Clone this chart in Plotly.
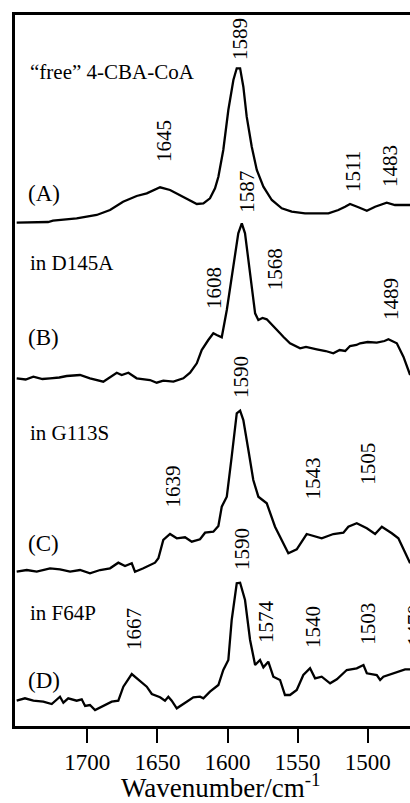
import plotly.graph_objects as go

# ---- data (wavenumber / cm-1, relative intensity) ----
wn_A = [1750.4, 1728.0, 1724.5, 1707.6, 1693.3, 1683.8, 1674.5, 1664.8, 1657.6, 1648.1, 1641.0, 1631.5,
        1621.9, 1617.2, 1612.5, 1608.9, 1606.5, 1603.0, 1599.4, 1595.8, 1593.4, 1591.0, 1588.7, 1586.3,
        1582.7, 1579.1, 1574.4, 1568.4, 1561.3, 1554.2, 1544.7, 1528.0, 1520.9, 1516.1, 1512.6, 1506.6,
        1500.6, 1494.7, 1486.4, 1480.5, 1473.3, 1469.7]
int_A = [0.3, 1, 2.3, 4.7, 8, 13, 21.3, 27, 29.7, 35.7, 33, 26.3,
         19, 19.7, 24.7, 34.7, 46.3, 73, 113, 143, 154.7, 154.7, 136.3, 106.3,
         76.3, 53, 36.3, 23, 14.7, 11.3, 9.7, 9.7, 13, 16.3, 19, 15.7,
         12.3, 16.3, 20.3, 18, 18, 18]

wn_B = [1750.4, 1744.0, 1738.5, 1732.0, 1726.6, 1720.0, 1714.7, 1705.2, 1698.1, 1688.6, 1679.0, 1675.5,
        1670.7, 1664.8, 1655.3, 1650.5, 1645.8, 1638.6, 1631.5, 1626.7, 1621.9, 1618.4, 1613.7, 1610.1,
        1607.7, 1604.1, 1600.5, 1595.8, 1592.3, 1589.8, 1587.5, 1583.9, 1580.3, 1578.0, 1575.0, 1572.0,
        1567.3, 1565.0, 1562.5, 1560.2, 1555.4, 1548.2, 1544.0, 1536.3, 1530.0, 1524.5, 1520.0, 1516.0,
        1512.6, 1508.0, 1505.4, 1500.0, 1493.5, 1488.0, 1485.2, 1479.2, 1474.5, 1469.7]
int_B = [1.7, 0.5, 3.3, 1.0, 1.7, 2.5, 4, 5, 1.7, -1.7, 7.3, 5,
         7.3, 1.7, 0, -2.7, -0.7, -1.7, 1.7, 7.3, 16.7, 30, 40, 46.7,
         45, 42.7, 70, 113.3, 146.7, 156.7, 146.7, 106.7, 66.7, 60, 62, 60.7,
         53.3, 50, 46.7, 43.3, 36.7, 31.7, 33, 30.7, 29, 26.7, 30, 29,
         34, 35, 36.7, 38, 37.3, 39, 40.7, 36.7, 23.3, 5]

wn_C = [1750.4, 1743.2, 1736.1, 1726.6, 1719.5, 1712.3, 1705.2, 1698.1, 1690.9, 1683.8, 1677.9, 1673.1,
        1668.3, 1666.0, 1660.0, 1651.7, 1649.3, 1645.8, 1641.0, 1636.2, 1630.3, 1625.5, 1619.6, 1616.0,
        1610.1, 1606.5, 1604.1, 1600.5, 1597.0, 1593.4, 1591.0, 1588.7, 1585.1, 1581.6, 1578.0, 1572.0,
        1566.1, 1561.3, 1556.6, 1550.6, 1543.5, 1532.8, 1524.5, 1517.3, 1513.8, 1507.8, 1500.6, 1494.7,
        1489.9, 1482.8, 1478.1, 1469.7]
int_C = [0.3, 2, 0.3, 3.7, 2.7, 0.3, 2, -1.3, 2, 3.7, 9.3, 6,
         8.7, 0.3, 3.7, 9.3, 13.7, 32, 38, 33.7, 34.7, 30.3, 32.7, 39.3,
         40.3, 46, 65.3, 75.3, 115.3, 158.7, 161.3, 152, 122, 92, 75.3, 68.7,
         45.3, 32, 18.7, 22.7, 38, 33.7, 38, 39.3, 45.3, 48.7, 43.7, 38,
         45.3, 38.7, 33.7, 8.7]

wn_D = [1750.4, 1744.5, 1738.5, 1731.4, 1725.4, 1721.8, 1719.5, 1717.1, 1713.6, 1707.6, 1704.0, 1701.6,
        1698.1, 1694.5, 1688.6, 1682.6, 1677.9, 1674.3, 1668.3, 1663.6, 1657.6, 1654.0, 1648.1, 1644.6,
        1642.2, 1639.8, 1636.2, 1629.1, 1624.4, 1619.6, 1617.2, 1612.5, 1606.5, 1603.0, 1599.4, 1597.0,
        1593.4, 1591.0, 1587.5, 1583.9, 1580.3, 1576.8, 1574.4, 1570.9, 1567.3, 1562.5, 1559.0, 1555.4,
        1550.6, 1545.9, 1541.1, 1537.5, 1532.8, 1526.8, 1522.0, 1514.9, 1507.8, 1503.0, 1500.6, 1493.5,
        1491.1, 1488.8, 1481.7, 1476.9, 1473.3, 1469.7]
int_D = [5.3, 7.7, 5.3, 4.3, 2, 6, 9.3, 3.3, 7.7, 5.3, 6.7, 0,
         1, -4, 0, 4.3, 5.3, 19.3, 32, 26, 19.3, 12, 8.7, 5.3,
         9.3, 5.3, -2.3, 4.3, 8.7, 9.3, 7.7, 14.3, 21, 36, 46, 86,
         122.7, 123.3, 106, 66, 41, 46, 38.7, 44.3, 29.3, 26, 11, 11,
         16, 31, 37.7, 27.7, 29.3, 22.7, 26.7, 36, 37.7, 41, 32.7, 31,
         26, 29.3, 32.7, 34.3, 36.7, 36.7]

offsets = [503, 346, 154, 20]
spectra = [(wn_A, int_A), (wn_B, int_B), (wn_C, int_C), (wn_D, int_D)]

sample_names = ["\u201cfree\u201d 4-CBA-CoA", "in D145A", "in G113S", "in F64P"]
panel_tags = ["(A)", "(B)", "(C)", "(D)"]

peak_labels = [["1589", "1645", "1511", "1483"],
               ["1587", "1608", "1568", "1489"],
               ["1590", "1639", "1543", "1505"],
               ["1590", "1667", "1574", "1540", "1503", "1470"]]

tick_vals = [1700, 1650, 1600, 1550, 1500]

# ---- layout helpers (positions) ----
X_RANGE = [1751.6, 1469.8]
peak_pos = [[(1591.0, 687), (1645.3, 585), (1510.4, 554), (1484.0, 560)],
            [(1586.3, 534), (1609.6, 438), (1566.0, 457), (1483.3, 427)],
            [(1590.3, 349), (1639.2, 239), (1539.3, 247), (1499.9, 262)],
            [(1589.6, 177), (1666.7, 97), (1572.5, 104), (1539.0, 99), (1500.0, 102), (1466.0, 101)]]
name_y = [654, 463, 293, 113]
tag_y = [533, 389, 183, 46]

FONT = "Liberation Serif, Times New Roman, serif"

fig = go.Figure()
for (wn, inten), off in zip(spectra, offsets):
    fig.add_trace(go.Scatter(x=wn, y=[v + off for v in inten], mode="lines",
                             line=dict(color="black", width=2.3), showlegend=False,
                             hoverinfo="skip"))

ann = []
for i in range(4):
    ann.append(dict(x=1742.5, y=name_y[i], xref="x", yref="y", text=sample_names[i],
                    showarrow=False, xanchor="left", yanchor="middle",
                    font=dict(family=FONT, size=21, color="black")))
    ann.append(dict(x=1743.5, y=tag_y[i], xref="x", yref="y", text=panel_tags[i],
                    showarrow=False, xanchor="left", yanchor="middle",
                    font=dict(family=FONT, size=23, color="black")))
    for lab, (px, py) in zip(peak_labels[i], peak_pos[i]):
        if X_RANGE[1] <= px <= X_RANGE[0]:
            xr, xv = "x", px
        else:  # label partly beyond the right edge -> place in paper coords so it is not hidden
            xr, xv = "paper", (X_RANGE[0] - px) / (X_RANGE[0] - X_RANGE[1])
        ann.append(dict(x=xv, y=py, xref=xr, yref="y", text=lab, textangle=-90,
                        showarrow=False, xanchor="center", yanchor="middle",
                        font=dict(family=FONT, size=21, color="black")))

ann.append(dict(x=0.5215, y=-0.058, xref="paper", yref="paper",
                text="Wavenumber/cm<sup>-1</sup>", showarrow=False,
                xanchor="center", yanchor="top",
                font=dict(family=FONT, size=27, color="black")))

fig.update_layout(
    width=410, height=803,
    margin=dict(l=15, r=0, t=15, b=77),
    paper_bgcolor="white", plot_bgcolor="white",
    annotations=ann,
    xaxis=dict(range=X_RANGE, tickvals=tick_vals, ticktext=[str(t) for t in tick_vals],
               ticks="outside", ticklen=14, tickwidth=2, tickcolor="black",
               showline=True, linewidth=2.5, linecolor="black", mirror=True,
               showgrid=False, zeroline=False,
               tickfont=dict(family=FONT, size=23, color="black")),
    yaxis=dict(range=[0, 711], showticklabels=False, ticks="",
               showline=True, linewidth=2.5, linecolor="black", mirror=False,
               showgrid=False, zeroline=False),
)

fig.write_html(
    "out.html",
    config={"displayModeBar": False},
    post_script="document.body.style.margin='0';document.body.style.padding='0';"
                "document.documentElement.style.overflow='hidden';document.body.style.overflow='hidden';",
)
